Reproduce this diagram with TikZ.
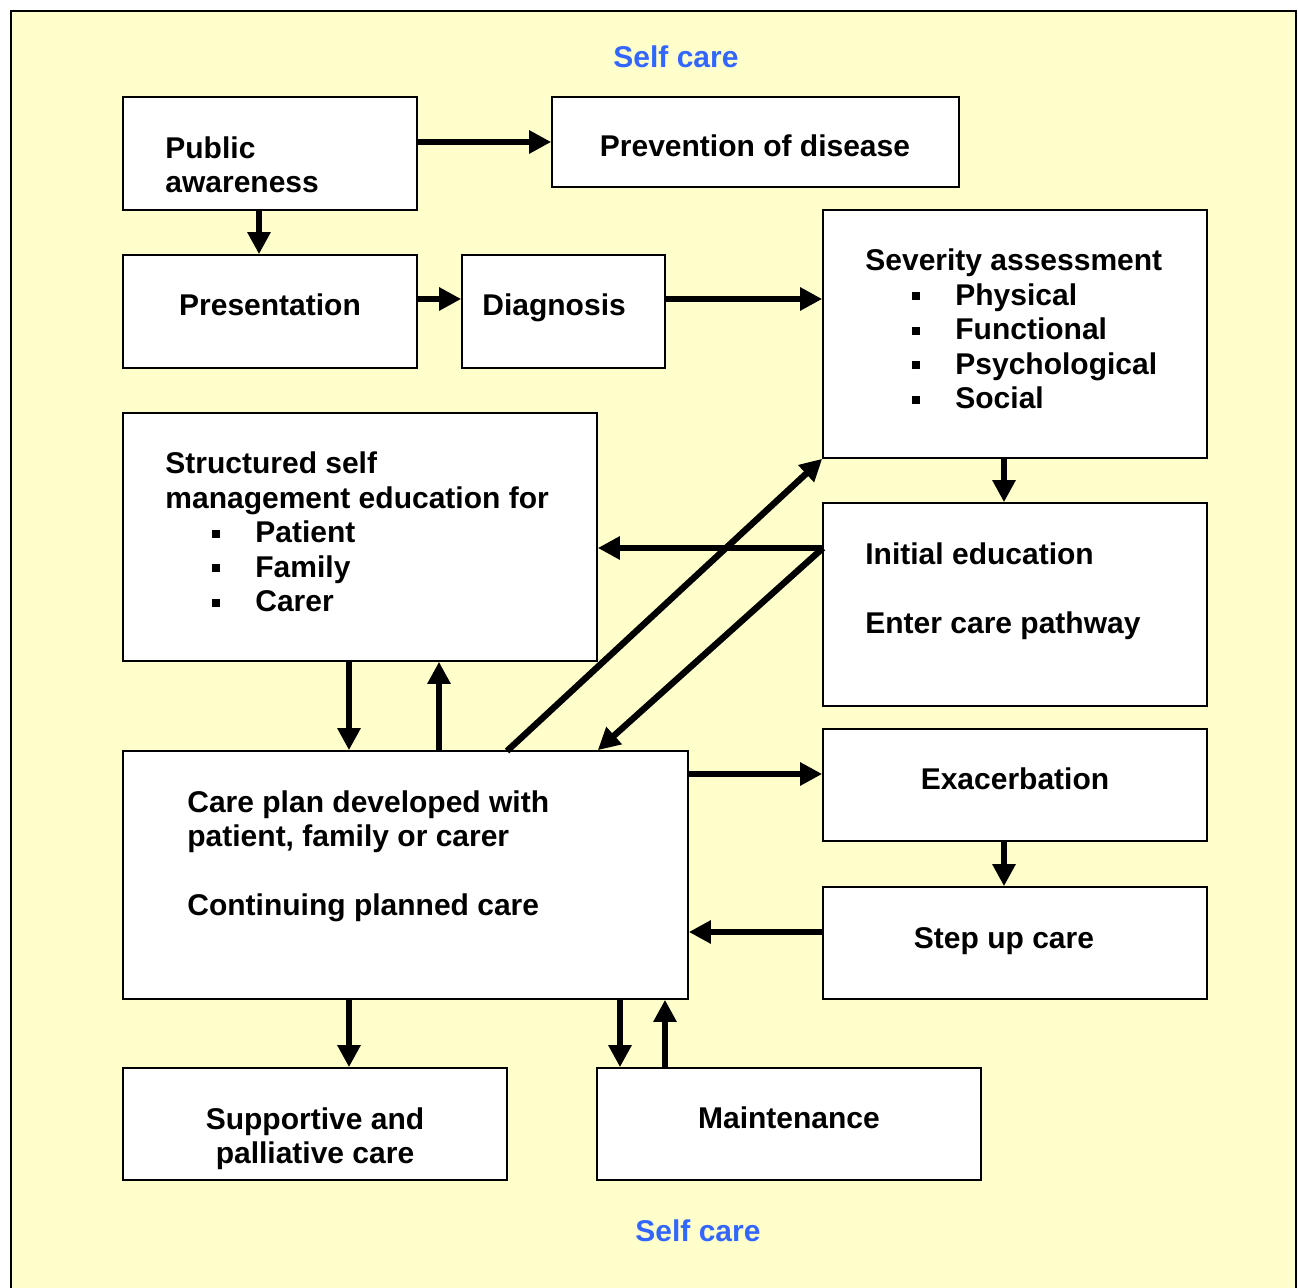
\documentclass[tikz,border=0pt]{standalone}
\usepackage{fontspec}
\setmainfont{Liberation Sans}
\usetikzlibrary{arrows.meta,fit}
\definecolor{fond}{RGB}{255,255,204}
\definecolor{bleu}{RGB}{51,102,255}

\tikzset{
  boite/.style={draw=black, line width=0.8pt, fill=white, inner sep=0pt},
  texte/.style={font=\bfseries\fontsize{15}{17.25}\selectfont, inner sep=0pt, align=left},
  fleche/.style={line width=3.2pt, -{Triangle[length=11pt,width=11pt]}},
}
\newcommand{\puce}{\makebox[45pt][l]{\hspace{23.5pt}\rule[2.5pt]{4pt}{4pt}}}

\begin{document}
\begin{tikzpicture}[x=0.5pt, y=-0.5pt]
  \useasboundingbox (0,0) rectangle (1298,1288);

  % Fond jaune
  \draw[fill=fond, line width=1pt] (11,11) rectangle (1296,1296);

  % Boites
  \node[boite, fit={(123,97) (417,210)}] (pub) {};
  \node[boite, fit={(552,97) (959,187)}] (prev) {};
  \node[boite, fit={(123,255) (417,368)}] (pres) {};
  \node[boite, fit={(462,255) (665,368)}] (diag) {};
  \node[boite, fit={(823,210) (1207,458)}] (sev) {};
  \node[boite, fit={(123,413) (597,661)}] (struct) {};
  \node[boite, fit={(823,503) (1207,706)}] (init) {};
  \node[boite, fit={(123,751) (688,999)}] (care) {};
  \node[boite, fit={(823,729) (1207,841)}] (exac) {};
  \node[boite, fit={(823,887) (1207,999)}] (step) {};
  \node[boite, fit={(123,1068) (507,1180)}] (supp) {};
  \node[boite, fit={(597,1068) (981,1180)}] (maint) {};

  % Textes (ancre sur la ligne de base de la derniere ligne)
  \node[texte, text=bleu, anchor=base] (sc1) at (676,68) {Self care};
  \node[texte, text=bleu, anchor=base] (sc2) at (698,1242) {Self care};
  \node[texte, anchor=base west] (t-pub) at (165,193) {Public\\awareness};
  \node[texte, anchor=base] (t-prev) at (755,157) {Prevention of disease};
  \node[texte, anchor=base] (t-pres) at (270,316) {Presentation};
  \node[texte, anchor=base west] (t-diag) at (482,316) {Diagnosis};
  \node[texte, anchor=base west] (t-sev) at (865,409)
    {Severity assessment\\\puce Physical\\\puce Functional\\\puce Psychological\\\puce Social};
  \node[texte, anchor=base west] (t-struct) at (165,612)
    {Structured self\\management education for\\\puce Patient\\\puce Family\\\puce Carer};
  \node[texte, anchor=base west] (t-init) at (865,634)
    {Initial education\\[17.25pt]Enter care pathway};
  \node[texte, anchor=base west] (t-care) at (187,916)
    {Care plan developed with\\patient, family or carer\\[17.25pt]Continuing planned care};
  \node[texte, anchor=base] (t-exac) at (1015,790) {Exacerbation};
  \node[texte, anchor=base] (t-step) at (1004,949) {Step up care};
  \node[texte, anchor=base, align=center] (t-supp) at (315,1164) {Supportive and\\palliative care};
  \node[texte, anchor=base] (t-maint) at (789,1129) {Maintenance};

  % Points de depart
  \coordinate (ie) at (823,548);
  \coordinate (cs) at (507,751);

  % Fleches
  \draw[fleche] (pub.east |- 0,142) -- (prev.west |- 0,142);
  \draw[fleche] (pub.south -| 259,0) -- (pres.north -| 259,0);
  \draw[fleche] (pres.east |- 0,299) -- (diag.west |- 0,299);
  \draw[fleche] (diag.east |- 0,299) -- (sev.west |- 0,299);
  \draw[fleche] (sev.south -| 1004,0) -- (init.north -| 1004,0);
  \draw[fleche] (ie) -- (struct.east |- ie);
  \draw[fleche] (cs) -- (sev.south west);
  \draw[fleche] (ie) -- (struct.east |- care.north);
  \draw[fleche] (struct.south -| 349,0) -- (care.north -| 349,0);
  \draw[fleche] (care.north -| 439,0) -- (struct.south -| 439,0);
  \draw[fleche] (care.east |- 0,774) -- (exac.west |- 0,774);
  \draw[fleche] (exac.south -| 1004,0) -- (step.north -| 1004,0);
  \draw[fleche] (step.west |- 0,932) -- (care.east |- 0,932);
  \draw[fleche] (care.south -| 349,0) -- (supp.north -| 349,0);
  \draw[fleche] (care.south -| 620,0) -- (maint.north -| 620,0);
  \draw[fleche] (maint.north -| 665,0) -- (care.south -| 665,0);
\end{tikzpicture}
\end{document}
